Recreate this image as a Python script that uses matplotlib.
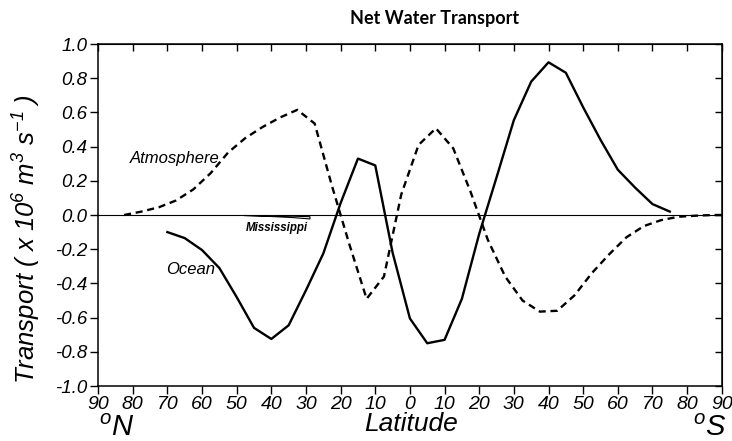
import matplotlib
matplotlib.use('Agg')
import matplotlib.pyplot as plt

# latitude, degrees north positive (south negative)
ocean_lat = [70, 65, 60, 55, 50, 45, 40, 35, 30, 25, 20, 15, 10, 5, 0,
             -5, -10, -15, -20, -25, -30, -35, -40, -45, -50, -55, -60, -65, -70, -75]
ocean_val = [-0.10, -0.135, -0.205, -0.31, -0.48, -0.66, -0.725, -0.645, -0.44, -0.225,
             0.07, 0.33, 0.29, -0.22, -0.605, -0.75, -0.73, -0.49, -0.11, 0.22,
             0.555, 0.78, 0.893, 0.832, 0.63, 0.44, 0.265, 0.16, 0.064, 0.02]

atmos_lat = [82.5, 77.5, 72.5, 67.5, 62.5, 57.5, 52.5, 47.5, 42.5, 37.5, 32.5, 27.5,
             22.5, 17.5, 12.5, 7.5, 2.5, -2.5, -7.5, -12.5, -17.5, -22.5, -27.5,
             -32.5, -37.5, -42.5, -47.5, -52.5, -57.5, -62.5, -67.5, -72.5, -77.5,
             -82.5, -87.5, -90]
atmos_val = [0.0, 0.02, 0.045, 0.085, 0.15, 0.245, 0.365, 0.45, 0.515, 0.57, 0.615, 0.535,
             0.17, -0.17, -0.49, -0.36, 0.12, 0.41, 0.507, 0.39, 0.136, -0.146, -0.36,
             -0.50, -0.565, -0.56, -0.47, -0.34, -0.23, -0.13, -0.065, -0.03, -0.01,
             -0.004, 0.0, 0.0]

miss_lat = [48, 40, 34, 29]
miss_low = [0.0, -0.006, -0.012, -0.02]
miss_high = [0.0, -0.002, -0.004, -0.007]

xticks = list(range(90, -91, -10))
yticks = [-1.0, -0.8, -0.6, -0.4, -0.2, 0.0, 0.2, 0.4, 0.6, 0.8, 1.0]

plt.rcParams['font.family'] = ['Liberation Sans', 'DejaVu Sans']
plt.rcParams['mathtext.fontset'] = 'custom'
plt.rcParams['mathtext.rm'] = 'Liberation Sans:italic'
plt.rcParams['mathtext.it'] = 'Liberation Sans:italic'

fig = plt.figure(figsize=(7.32, 4.41), dpi=100)
ax = fig.add_axes([0.134, 0.1247, 0.852, 0.7755])

ax.axhline(0, color='black', linewidth=0.8, zorder=1)
ax.plot(ocean_lat, ocean_val, color='black', linewidth=1.7, zorder=3)
ax.plot(atmos_lat, atmos_val, color='black', linewidth=1.7, linestyle=(0, (3, 2)), zorder=3)
ax.fill_between(miss_lat, miss_low, miss_high, facecolor='white', edgecolor='black',
                linewidth=0.8, zorder=2)

ax.set_xlim(90, -90)
ax.set_ylim(-1.0, 1.0)
ax.set_xticks(xticks)
ax.set_xticklabels([str(abs(v)) for v in xticks], fontstyle='italic', fontsize=14)
ax.set_yticks(yticks)
ax.set_yticklabels(['%.1f' % v for v in yticks], fontstyle='italic', fontsize=13.5)
ax.tick_params(direction='out', length=6, width=1, pad=1.5)
for s in ax.spines.values():
    s.set_linewidth(1.1)

# inward ticks on top and right
top = ax.secondary_xaxis('top')
top.set_xticks(xticks)
top.tick_params(direction='in', length=5, width=1, labeltop=False)
right = ax.secondary_yaxis('right')
right.set_yticks(yticks)
right.tick_params(direction='in', length=5, width=1, labelright=False)

ax.text(80.8, 0.33, 'Atmosphere', fontstyle='italic', fontsize=12, va='center', ha='left')
ax.text(70.3, -0.32, 'Ocean', fontstyle='italic', fontsize=12, va='center', ha='left')
ax.text(47.5, -0.075, 'Mississippi', fontstyle='italic', fontweight='bold', fontsize=8.3,
        va='center', ha='left')

ax.set_ylabel(r'Transport ( x 10$^6$ m$^3$ s$^{-1}$ )', fontstyle='italic', fontsize=18.5)
ax.yaxis.set_label_coords(-0.088, 0.43)

fig.text(0.561, 0.012, 'Latitude', fontstyle='italic', fontsize=19, ha='center', va='bottom')
fig.text(0.135, 0.012, r'$^o$N', fontstyle='italic', fontsize=21, ha='left', va='baseline')
fig.text(0.992, 0.012, r'$^o$S', fontstyle='italic', fontsize=21, ha='right', va='baseline')
fig.text(0.593, 0.957, 'Net Water Transport', fontweight='bold', fontsize=13,
         ha='center', va='center', family=['Lato', 'DejaVu Sans'])

fig.savefig('out.png', dpi=100)
